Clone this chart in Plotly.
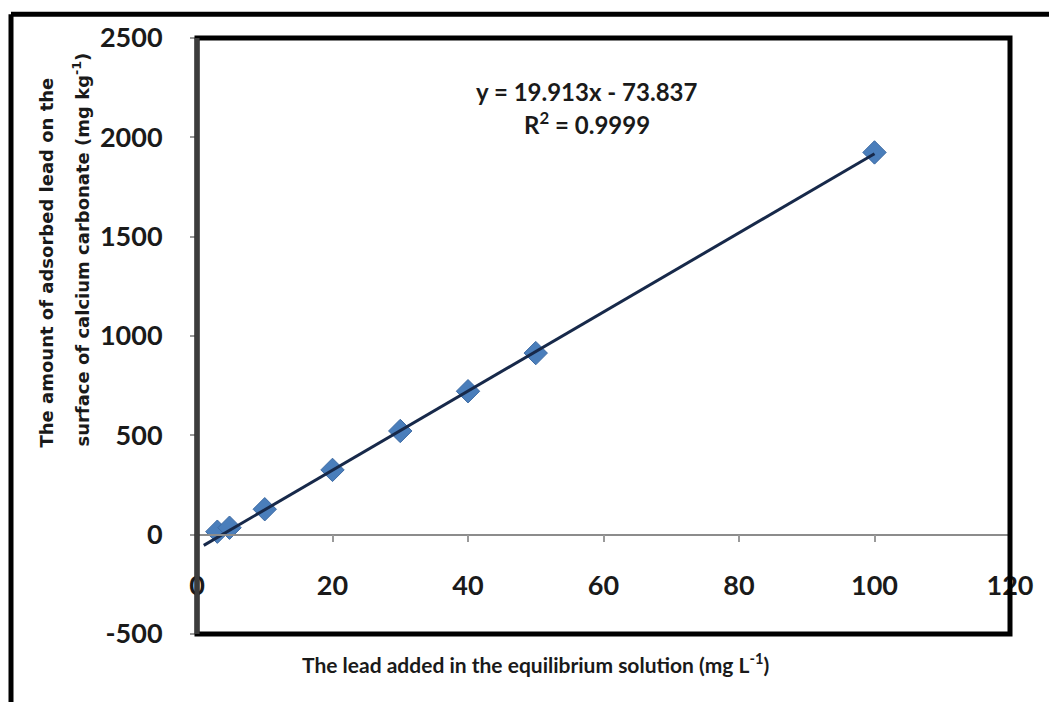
import plotly.graph_objects as go

# ---- data ----
lead_added = [3.0, 4.8, 10, 20, 30, 40, 50, 100]
lead_adsorbed = [15, 35, 128, 326, 522, 722, 914, 1924]
slope = 19.913
intercept = -73.837
trend_start = 1.0
equation_text = "y = 19.913x - 73.837"
r2_text = "R<sup>2</sup> = 0.9999"
x_title = "The lead added in the equilibrium solution (mg L<sup>-1</sup>)"
y_title_1 = "The amount of adsorbed lead on the"
y_title_2 = "surface of calcium carbonate (mg kg<sup>-1</sup>)"
x_range = [0, 120]
y_range = [-500, 2500]
x_tickvals = [0, 20, 40, 60, 80, 100, 120]
x_ticktext = ["0", "20", "40", "60", "80", "100", "120"]
y_tickvals = [-500, 0, 500, 1000, 1500, 2000, 2500]
y_ticktext = ["-500", "0", "500", "1000", "1500", "2000", "2500"]

# ---- layout geometry (page body adds an 8px offset) ----
OFF = 8
W, H = 1057 - OFF, 702 - OFF
L, R, T, B = 197 - OFF, 47, 34 - OFF, 68
PW, PH = W - L - R, H - T - B


def px(xp):
    return (xp - OFF - L) / PW


def py(yp):
    return (H - B - (yp - OFF)) / PH


trend_x = [trend_start, max(lead_added)]
trend_y = [slope * v + intercept for v in trend_x]

fig = go.Figure()
fig.add_trace(go.Scatter(
    x=lead_added, y=lead_adsorbed, mode="markers",
    marker=dict(symbol="diamond", size=18, color="#4A7EBB",
                line=dict(color="#3D6AA3", width=1)),
    showlegend=False, hoverinfo="x+y"))
fig.add_trace(go.Scatter(
    x=trend_x, y=trend_y, mode="lines",
    line=dict(color="#17294A", width=3),
    showlegend=False, hoverinfo="skip"))

zero_pos = (0 - y_range[0]) / (y_range[1] - y_range[0])
tick_font = dict(family="Lato", size=27, color="#1a1a1a", weight="bold")

fig.update_layout(
    width=W, height=H,
    margin=dict(l=L, r=R, t=T, b=B),
    paper_bgcolor="white", plot_bgcolor="white",
    xaxis=dict(range=x_range, tickvals=x_tickvals, ticktext=x_ticktext,
               showgrid=False, zeroline=False, anchor="free", position=zero_pos,
               showline=True, linecolor="#8C8C8C", linewidth=1.5,
               ticks="outside", ticklen=7, tickcolor="#9A9A9A", tickwidth=1.5,
               ticklabelstandoff=20, tickfont=tick_font),
    yaxis=dict(range=y_range, tickvals=y_tickvals, ticktext=y_ticktext,
               showgrid=False, zeroline=False, showline=False,
               ticks="outside", ticklen=6, tickcolor="#9A9A9A", tickwidth=1.5,
               ticklabelstandoff=22, tickfont=tick_font),
    shapes=[
        # plot frame
        dict(type="rect", xref="paper", yref="paper", x0=0, x1=1, y0=0, y1=1,
             line=dict(color="black", width=5), layer="above"),
        dict(type="line", xref="paper", yref="paper", x0=0, x1=0, y0=0, y1=1,
             line=dict(color="#3C3C3C", width=5), layer="above"),
        # outer frame (top and left)
        dict(type="line", xref="paper", yref="paper", x0=px(11), x1=px(1070),
             y0=py(10), y1=py(10), line=dict(color="black", width=5)),
        dict(type="line", xref="paper", yref="paper", x0=px(11), x1=px(11),
             y0=py(10), y1=py(715), line=dict(color="black", width=5)),
    ],
    annotations=[
        dict(text=equation_text, x=px(586), y=py(88), xref="paper", yref="paper",
             showarrow=False, xanchor="center", yanchor="middle",
             font=dict(family="Lato", size=24, color="#1a1a1a", weight="bold")),
        dict(text=r2_text, x=px(587), y=py(120), xref="paper", yref="paper",
             showarrow=False, xanchor="center", yanchor="middle",
             font=dict(family="Lato", size=24, color="#1a1a1a", weight="bold")),
        dict(text=x_title, x=px(535), y=py(663), xref="paper", yref="paper",
             showarrow=False, xanchor="center", yanchor="middle",
             font=dict(family="Lato", size=21, color="#1a1a1a", weight="bold")),
        dict(text=y_title_1, x=px(46), y=py(260), xref="paper", yref="paper",
             showarrow=False, xanchor="center", yanchor="middle", textangle=-90,
             font=dict(family="DejaVu Sans", size=18, color="#1a1a1a", weight="bold")),
        dict(text=y_title_2, x=px(81), y=py(247), xref="paper", yref="paper",
             showarrow=False, xanchor="center", yanchor="middle", textangle=-90,
             font=dict(family="DejaVu Sans", size=18, color="#1a1a1a", weight="bold")),
    ],
)

fig.write_html("out.html")
